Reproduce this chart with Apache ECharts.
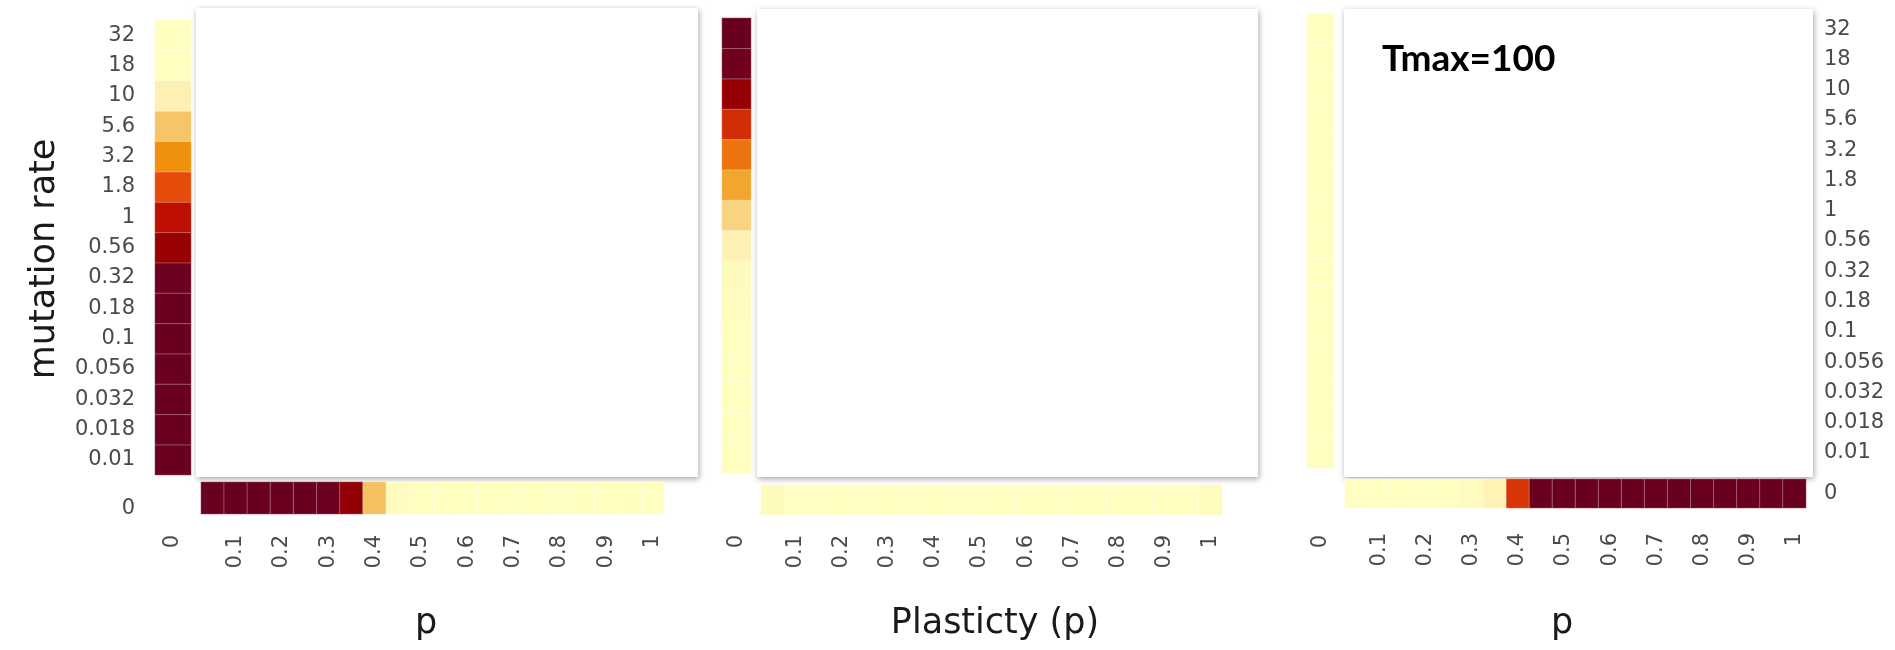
<!DOCTYPE html>
<html><head><meta charset="utf-8">
<script src="https://cdn.jsdelivr.net/npm/echarts@6/dist/echarts.min.js"></script>
<style>html,body{margin:0;padding:0;background:#fff}#c{width:1895px;height:650px}</style>
</head><body><div id="c"></div>
<script>
// ---- data ----
const mutationRates = ['0.01','0.018','0.032','0.056','0.1','0.18','0.32','0.56','1','1.8','3.2','5.6','10','18','32'];
const plasticity = ['0.05','0.1','0.15','0.2','0.25','0.3','0.35','0.4','0.45','0.5','0.55','0.6','0.65','0.7','0.75','0.8','0.85','0.9','0.95','1'];
const zeroLabel = ['0'];
// column: p = 0, mutation rate 0.01 -> 32 ; row: mutation rate = 0, p 0.05 -> 1
const panel1Column = [1,1,1,1,1,1,0.99,0.86,0.72,0.58,0.44,0.29,0.13,0.02,0.01];
const panel1Row = [1,1,1,1,1,0.99,0.88,0.3,0.03,0.02,0.02,0.01,0.02,0.01,0.02,0.01,0.01,0.02,0.01,0.01];
const panel2Column = [0.02,0.02,0.02,0.02,0.02,0.03,0.04,0.12,0.24,0.38,0.5,0.65,0.87,0.98,1];
const panel2Row = [0.04,0.02,0.02,0.02,0.02,0.02,0.02,0.02,0.02,0.02,0.02,0.02,0.02,0.02,0.02,0.02,0.02,0.02,0.02,0.03];
const panel3Column = [0.02,0.02,0.02,0.02,0.02,0.02,0.02,0.02,0.02,0.02,0.02,0.02,0.02,0.02,0.02];
const panel3Row = [0.02,0.01,0.02,0.01,0.02,0.03,0.1,0.63,1,1,1,1,1,1,1,1,1,1,1,1];
const xTitles = ['p', 'Plasticty (p)', 'p'];
const yTitle = 'mutation rate';
const annotation = 'Tmax=100';

const colorScale = ['#ffffc2','#fdeeb0','#f5c66a','#f0960f','#e8500a','#c01000','#9a0000','#6a0020'];

const panels = [
  {col: panel1Column, row: panel1Row,
   A:{left:155,top:20,width:36,height:455}, B:{left:201,top:482,width:463,height:32},
   yPos:'left', yShow:true, yMarginA:20, yMarginB:66, zeroAlign:'top', xMarginA:60, xMarginB:21,
   box:[196,8,502,469], titleX:426},
  {col: panel2Column, row: panel2Row,
   A:{left:722,top:18,width:29,height:455}, B:{left:761,top:485,width:461,height:30},
   yPos:'left', yShow:false, yMarginA:8, yMarginB:8, zeroAlign:'middle', xMarginA:62, xMarginB:20,
   box:[757,9,501,468], titleX:995},
  {col: panel3Column, row: panel3Row,
   A:{left:1307,top:14,width:27,height:454}, B:{left:1345,top:479,width:461,height:29},
   yPos:'right', yShow:true, yMarginA:490, yMarginB:18, zeroAlign:'middle', xMarginA:67, xMarginB:25,
   box:[1344,9,469,468], titleX:1562}
];

const labelStyle = {fontFamily:'DejaVu Sans', fontSize:21, color:'#4a4a4a'};
const grids = [], xAxes = [], yAxes = [], series = [], graphics = [];

panels.forEach((p, k) => {
  graphics.push({type:'rect', shape:{x:p.box[0], y:p.box[1], width:p.box[2], height:p.box[3]},
    style:{fill:'#fff', shadowBlur:6, shadowOffsetX:1, shadowOffsetY:2, shadowColor:'rgba(0,0,0,0.35)'}, z:-1});
  const gA = grids.length;
  grids.push(Object.assign({}, p.A));
  grids.push(Object.assign({}, p.B));
  const hidden = {axisLine:{show:false}, axisTick:{show:false}, splitLine:{show:false}};
  xAxes.push(Object.assign({type:'category', gridIndex:gA, data:zeroLabel, position:'bottom',
    axisLabel:Object.assign({rotate:90, margin:p.xMarginA}, labelStyle)}, hidden));
  yAxes.push(Object.assign({type:'category', gridIndex:gA, data:mutationRates, position:p.yPos,
    axisLabel:Object.assign({show:p.yShow, margin:p.yMarginA, interval:0}, labelStyle)}, hidden));
  xAxes.push(Object.assign({type:'category', gridIndex:gA+1, data:plasticity, position:'bottom',
    axisLabel:Object.assign({rotate:90, margin:p.xMarginB, interval:(i)=> i % 2 === 1}, labelStyle)}, hidden));
  yAxes.push(Object.assign({type:'category', gridIndex:gA+1, data:zeroLabel, position:p.yPos,
    axisLabel:Object.assign({show:p.yShow, margin:p.yMarginB, verticalAlign:p.zeroAlign}, labelStyle)}, hidden));
  const common = {type:'heatmap', itemStyle:{borderColor:'rgba(255,255,255,0.3)', borderWidth:1},
    emphasis:{disabled:true}, silent:true};
  series.push(Object.assign({xAxisIndex:gA, yAxisIndex:gA, data:p.col.map((v,i)=>[0,i,v])}, common));
  series.push(Object.assign({xAxisIndex:gA+1, yAxisIndex:gA+1, data:p.row.map((v,i)=>[i,0,v])}, common));
  graphics.push({type:'text', x:p.titleX, y:624, style:{text:xTitles[k], font:'35px "DejaVu Sans"', fill:'#1a1a1a', align:'center', verticalAlign:'middle'}});
});

graphics.push({type:'text', x:45, y:259, rotation:Math.PI/2,
  style:{text:yTitle, font:'35px "DejaVu Sans"', fill:'#1a1a1a', align:'center', verticalAlign:'middle'}});
graphics.push({type:'text', x:1382, y:59,
  style:{text:annotation, font:'bold 37px Lato', fill:'#000', align:'left', verticalAlign:'middle'}});

const chart = echarts.init(document.getElementById('c'));
chart.setOption({
  animation:false,
  backgroundColor:'#fff',
  grid:grids, xAxis:xAxes, yAxis:yAxes,
  visualMap:{type:'continuous', show:false, min:0, max:1, seriesIndex:series.map((s,i)=>i), inRange:{color:colorScale}},
  series:series,
  graphic:{elements:graphics}
});
</script></body></html>
